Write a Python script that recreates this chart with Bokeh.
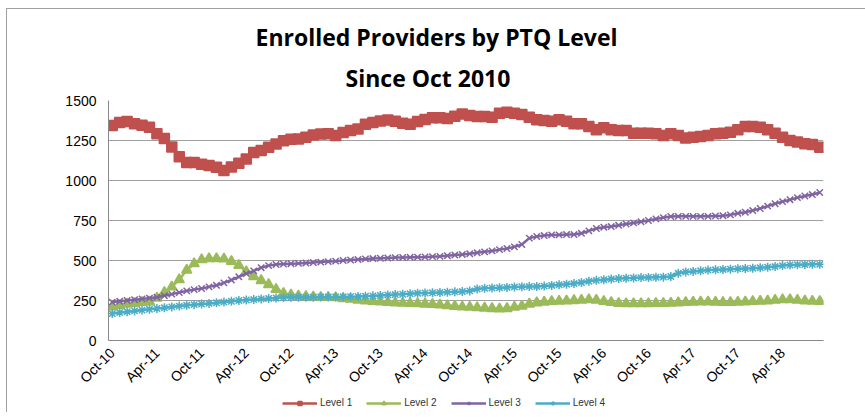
import math
from bokeh.plotting import figure
from bokeh.layouts import column
from bokeh.models import (ColumnDataSource, FixedTicker, Title, Legend, LegendItem, Range1d)
from bokeh.embed import file_html
from bokeh.resources import INLINE

# ---- data (monthly, Oct-10 .. Sep-18) ----
tick_labels = ["Oct-10", "Apr-11", "Oct-11", "Apr-12", "Oct-12", "Apr-13", "Oct-13", "Apr-14",
               "Oct-14", "Apr-15", "Oct-15", "Apr-16", "Oct-16", "Apr-17", "Oct-17", "Apr-18"]

level1 = [1344, 1362, 1368, 1355, 1345, 1333, 1292, 1262, 1210, 1148,
          1112, 1112, 1102, 1093, 1083, 1062, 1085, 1108, 1135, 1175,
          1188, 1208, 1228, 1248, 1258, 1260, 1270, 1284, 1290, 1292,
          1282, 1300, 1312, 1322, 1352, 1362, 1372, 1378, 1370, 1358,
          1352, 1368, 1382, 1392, 1392, 1388, 1402, 1416, 1406, 1400,
          1400, 1396, 1420, 1427, 1421, 1412, 1396, 1380, 1375, 1371,
          1379, 1371, 1354, 1354, 1337, 1317, 1329, 1317, 1312, 1312,
          1296, 1296, 1296, 1292, 1281, 1292, 1281, 1266, 1271, 1275,
          1281, 1292, 1296, 1302, 1317, 1337, 1337, 1333, 1317, 1296,
          1271, 1250, 1240, 1229, 1225, 1208]

level2 = [210, 220, 228, 232, 238, 242, 265, 300, 335, 380,
          440, 480, 505, 512, 512, 510, 495, 470, 430, 400,
          375, 350, 320, 295, 285, 278, 275, 272, 270, 270,
          268, 262, 258, 252, 248, 245, 242, 238, 235, 233,
          232, 230, 228, 226, 222, 218, 214, 210, 208, 205,
          203, 200, 198, 200, 208, 215, 228, 236, 240, 244,
          246, 248, 250, 252, 255, 252, 245, 238, 232, 230,
          230, 230, 231, 232, 232, 234, 236, 238, 240, 242,
          242, 240, 238, 238, 240, 242, 244, 246, 248, 252,
          255, 256, 252, 248, 246, 245]

level3 = [240, 245, 250, 255, 260, 265, 270, 280, 290, 300,
          310, 318, 325, 335, 345, 360, 378, 398, 418, 435,
          455, 468, 475, 478, 480, 482, 484, 487, 490, 493,
          496, 500, 503, 506, 510, 512, 514, 516, 518, 519,
          520, 521, 522, 524, 526, 530, 534, 538, 542, 548,
          554, 560, 568, 575, 585, 600, 640, 650, 656, 660,
          660, 662, 662, 670, 685, 700, 708, 712, 720, 728,
          735, 742, 750, 760, 768, 775, 776, 776, 776, 776,
          776, 778, 780, 785, 795, 802, 812, 825, 840, 855,
          868, 880, 893, 903, 912, 925]

level4 = [168, 175, 180, 185, 190, 195, 200, 205, 210, 215,
          220, 224, 228, 232, 236, 240, 245, 250, 253, 256,
          260, 263, 266, 268, 270, 271, 271, 271, 272, 272,
          272, 273, 274, 275, 277, 279, 282, 285, 287, 289,
          292, 295, 297, 298, 300, 302, 304, 306, 310, 322,
          326, 328, 330, 332, 334, 336, 337, 338, 340, 344,
          348, 352, 356, 362, 370, 376, 380, 384, 387, 389,
          391, 393, 394, 395, 396, 400, 420, 428, 432, 436,
          440, 442, 444, 446, 448, 450, 452, 455, 458, 462,
          468, 472, 474, 475, 476, 476]

series_names = ["Level 1", "Level 2", "Level 3", "Level 4"]
series_values = [level1, level2, level3, level4]
colors = ["#C0504D", "#9BBB59", "#8064A2", "#4BACC6"]
markers = ["square", "triangle", "x", "asterisk"]
marker_sizes = [10, 10, 9, 9]

months = list(range(len(level1)))
tick_positions = list(range(0, len(level1), 6))[:len(tick_labels)]

p = figure(frame_width=715, frame_height=240, output_backend="svg", toolbar_location=None,
           x_range=Range1d(-0.5, len(level1) - 0.5), y_range=Range1d(0, 1500),
           min_border_left=101, min_border_right=42, min_border_top=91, min_border_bottom=48)

# small legend-only strip beneath the chart (same series, view kept off the data)
leg_fig = figure(width=858, height=18, output_backend="svg", toolbar_location=None,
                 x_range=Range1d(-10, -9), y_range=Range1d(-10, -9),
                 x_axis_type=None, y_axis_type=None,
                 min_border_left=0, min_border_right=0, min_border_top=0, min_border_bottom=0)
leg_fig.outline_line_color = None
leg_fig.xgrid.visible = False
leg_fig.ygrid.visible = False
leg_fig.background_fill_color = "white"
leg_fig.border_fill_color = "white"

p.title.text = ""
p.title.standoff = 0
p.add_layout(Title(text="Since Oct 2010", align="left", text_font="Open Sans",
                   text_font_size="23px", text_font_style="bold", text_color="#000000",
                   standoff=14, offset=237), "above")
p.add_layout(Title(text="Enrolled Providers by PTQ Level", align="left", text_font="Open Sans",
                   text_font_size="23px", text_font_style="bold", text_color="#000000",
                   standoff=0, offset=147), "above")

items = []
for name, vals, c, m, s in zip(series_names, series_values, colors, markers, marker_sizes):
    src = ColumnDataSource(dict(x=months, y=vals))
    p.line("x", "y", source=src, line_color=c, line_width=2.5)
    p.scatter("x", "y", source=src, marker=m, size=s, fill_color=c, line_color=c,
              line_width=1.5)
    lln = leg_fig.line("x", "y", source=src, line_color=c, line_width=2.5)
    lsc = leg_fig.scatter("x", "y", source=src, marker=m, size=s - 2, fill_color=c,
                          line_color=c, line_width=1.5)
    items.append(LegendItem(label=name, renderers=[lln, lsc]))

legend = Legend(items=items, orientation="horizontal", location=(174, 4),
                label_text_font="Liberation Sans", label_text_font_size="10px",
                label_text_color="#333333", glyph_width=35, glyph_height=10,
                label_standoff=3, spacing=14, padding=0, margin=0,
                border_line_color=None, background_fill_alpha=0)
leg_fig.add_layout(legend, "center")

# axes
p.xaxis.ticker = FixedTicker(ticks=tick_positions)
p.xaxis.major_label_overrides = {t: l for t, l in zip(tick_positions, tick_labels)}
p.xaxis.major_label_orientation = math.pi / 4
p.xaxis.major_label_text_font = "Liberation Sans"
p.xaxis.major_label_text_font_size = "14px"
p.xaxis.major_label_text_color = "#000000"
p.xaxis.major_tick_line_color = None
p.xaxis.major_tick_out = 0
p.xaxis.major_tick_in = 0
p.xaxis.minor_tick_line_color = None
p.xaxis.axis_line_color = "#888888"
p.xaxis.major_label_standoff = 10

p.yaxis.ticker = FixedTicker(ticks=[0, 250, 500, 750, 1000, 1250, 1500])
p.yaxis.major_label_text_font = "Liberation Sans"
p.yaxis.major_label_text_font_size = "14px"
p.yaxis.major_label_text_color = "#000000"
p.yaxis.major_tick_line_color = None
p.yaxis.major_tick_out = 0
p.yaxis.major_tick_in = 0
p.yaxis.minor_tick_line_color = None
p.yaxis.axis_line_color = "#888888"
p.yaxis.major_label_standoff = 12

p.xgrid.grid_line_color = None
p.ygrid.grid_line_color = "#A0A0A0"
p.ygrid.grid_line_width = 1
p.outline_line_color = None
p.background_fill_color = "white"
p.border_fill_color = "white"

layout = column(p, leg_fig, spacing=0)
layout.styles = {"margin-left": "6px", "margin-top": "8px",
                 "border-top": "1px solid #A0A0A0", "border-left": "1px solid #A0A0A0"}

open("out.html", "w").write(file_html(layout, INLINE))
